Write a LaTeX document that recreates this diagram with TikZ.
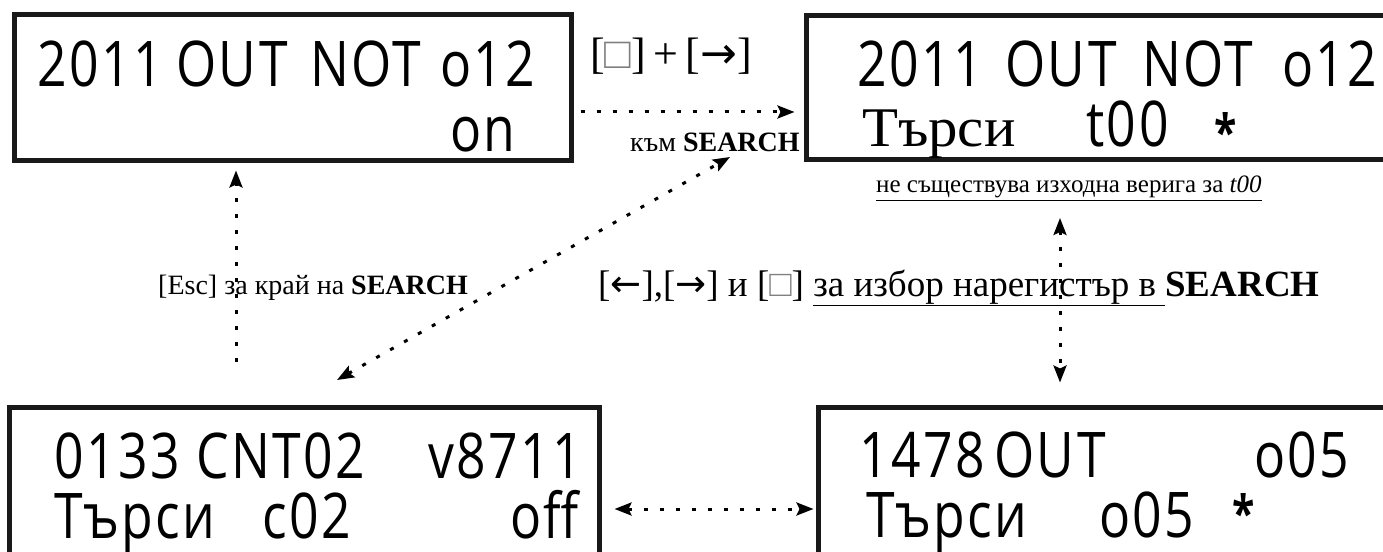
\documentclass[tikz,border=0pt]{standalone}
\usepackage{fontspec}
\usepackage{xcolor}
\usepackage{tikz}
\usetikzlibrary{arrows.meta,positioning,calc}

\setmainfont{Liberation Serif}
\newfontfamily\lcdfont[FakeStretch=0.82,LetterSpace=4]{Open Sans}
\newfontfamily\widefont[FakeStretch=1.05]{Liberation Serif}
\newfontfamily\arrowfont{DejaVu Sans}
\newcommand{\keyarr}[1]{{\arrowfont #1}}
\newcommand{\nokey}{{\color{gray}□}}

\begin{document}
\begin{tikzpicture}[
    x=1bp, y=-1bp,
    screen/.style={draw, line width=5bp, inner sep=0pt, color=black!90},
    lcd/.style={anchor=base west, inner sep=0pt,
                font=\lcdfont\fontsize{63bp}{63bp}\selectfont},
    star/.style={anchor=base west, inner sep=0pt,
                font=\lcdfont\bfseries\fontsize{50bp}{50bp}\selectfont},
    lcdserif/.style={anchor=base west, inner sep=0pt,
                font=\widefont\fontsize{56bp}{56bp}\selectfont},
    keylabel/.style={anchor=base west, inner sep=0pt,
                font=\fontsize{28bp}{30bp}\selectfont},
    dotarrow/.style={line width=3bp, dash pattern=on 4bp off 12bp,
                -{Stealth[length=17bp, width=13bp, inset=3bp]}},
    dotboth/.style={dotarrow,
                {Stealth[length=17bp, width=13bp, inset=3bp]}-{Stealth[length=17bp, width=13bp, inset=3bp]}},
]
\useasboundingbox (0,0) rectangle (1383,552);
\clip (0,0) rectangle (1383,552);

% -------- TOP: normal display and SEARCH display --------
\node[screen, minimum width=556bp, minimum height=146bp] (tl) at (293,88) {};
\node[lcd] (tl1a) at (37,87)  {2011};
\node[lcd] (tl1b) at (176,87) {OUT};
\node[lcd] (tl1c) at (310,87) {NOT};
\node[lcd] (tl1d) at (440,87) {o12};
\node[lcd] (tl2a) at (450,152) {on};

\node[screen, minimum width=614bp, minimum height=144bp] (tr) at (1113,88) {};
\node[lcd] (tr1a) at (857,87)  {2011};
\node[lcd] (tr1b) at (1005,87) {OUT};
\node[lcd] (tr1c) at (1142,87) {NOT};
\node[lcd] (tr1d) at (1282,87) {o12};
\node[lcdserif] (tr2a) at (862,147) {Търси};
\node[lcd] (tr2b) at (1086,147) {t00};
\node[star] (tr2c) at (1214,151) {*};

% keys between the two top displays
\node[keylabel, font=\fontsize{44bp}{44bp}\selectfont] (keyplus) at (590,69)
  {[\nokey]\,+\,[\keyarr{→}]};
\node[keylabel] (tosearch) at (630,152) {към \textbf{SEARCH}};
\node[keylabel, font=\fontsize{25bp}{27bp}\selectfont] (nocircuit) at (876,193)
  {\underline{не съществува изходна верига за \textit{t00}}};

% -------- BOTTOM: other registers in SEARCH --------
\node[screen, minimum width=589bp, minimum height=173bp] (bl) at (304.5,493.5) {};
\node[lcd] (bl1a) at (54,478)  {0133};
\node[lcd] (bl1b) at (196,478) {CNT02};
\node[lcd] (bl1c) at (428,478) {v8711};
\node[lcd] (bl2a) at (54,538)  {Търси};
\node[lcd] (bl2b) at (262,538) {c02};
\node[lcd] (bl2c) at (510,538) {off};

\node[screen, minimum width=602bp, minimum height=173bp] (br) at (1119,493.5) {};
\node[lcd] (br1a) at (859,477)  {1478};
\node[lcd] (br1b) at (994,477)  {OUT};
\node[lcd] (br1c) at (1254,477) {o05};
\node[lcd] (br2a) at (866,537)  {Търси};
\node[lcd] (br2b) at (1099,537) {o05};
\node[star] (br2c) at (1232,531) {*};

% middle labels
\node[keylabel] (esclbl) at (158,294) {[Esc] за край на \textbf{SEARCH}};
\node[keylabel, font=\fontsize{37bp}{39bp}\selectfont] (sellbl) at (598,296)
  {[\keyarr{←}],[\keyarr{→}] и [\nokey] \underline{за избор нарегистър в\ }\textbf{SEARCH}};

% -------- connectors --------
\coordinate (escfoot) at (236,362);
\coordinate (diaglo) at (337,380);
\coordinate (diaghi) at (730,157);
\coordinate (vtop) at (1060,218);

\draw[dotarrow, shorten <=7bp, shorten >=9bp]
  ([yshift=-24bp]tl.east) -- ([yshift=-24bp]tr.west);
\draw[dotarrow, shorten >=7bp] (escfoot) -- (escfoot |- tl.south);
\draw[dotboth] (diaglo) -- (diaghi);
\draw[dotboth, shorten >=22bp] (vtop) -- (vtop |- br.north);
\draw[dotboth, shorten <=13bp, shorten >=2bp]
  ([yshift=-15.5bp]bl.east) -- ([yshift=-15.5bp]br.west);

\end{tikzpicture}
\end{document}
